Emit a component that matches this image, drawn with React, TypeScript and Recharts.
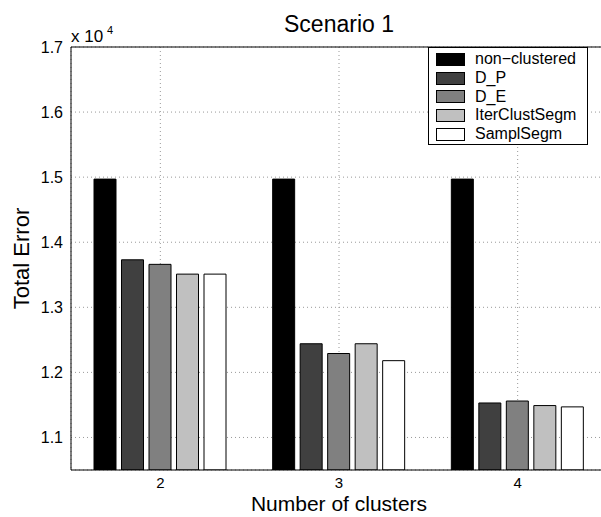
import React from "react";
import { Bar, BarChart, CartesianGrid, ReferenceLine, XAxis, YAxis } from "recharts";

const clusters = ["2", "3", "4"];
const nonClustered = [14970, 14970, 14970];
const dP = [13730, 12440, 11530];
const dE = [13660, 12290, 11560];
const iterClustSegm = [13510, 12440, 11490];
const samplSegm = [13510, 12180, 11470];
const yTicks = [11000, 12000, 13000, 14000, 15000, 16000, 17000];

const series = [
  { key: "nonClustered", name: "non\u2212clustered", values: nonClustered, color: "#000000" },
  { key: "dP", name: "D_P", values: dP, color: "#404040" },
  { key: "dE", name: "D_E", values: dE, color: "#808080" },
  { key: "iterClustSegm", name: "IterClustSegm", values: iterClustSegm, color: "#c0c0c0" },
  { key: "samplSegm", name: "SamplSegm", values: samplSegm, color: "#ffffff" },
];

const font = "'Liberation Sans', Arial, Helvetica, sans-serif";

const App: React.FC = () => {
  const data = clusters.map((c, i) => {
    const row: Record<string, string | number> = { cluster: c };
    series.forEach((s) => {
      row[s.key] = s.values[i];
    });
    return row;
  });

  return (
    <div
      style={{
        position: "absolute",
        left: 0,
        top: 0,
        width: 601,
        height: 517,
        overflow: "hidden",
        background: "#fff",
        fontFamily: font,
      }}
    >
      <BarChart
        width={620}
        height={517}
        data={data}
        margin={{ top: 47, right: 13, bottom: 0, left: 16 }}
        barSize={22}
        barGap={5.5}
      >
        <CartesianGrid stroke="#999" strokeDasharray="1 3" />
        <XAxis
          dataKey="cluster"
          height={47}
          axisLine={{ stroke: "#000" }}
          tickLine={false}
          tickMargin={1}
          tick={{ fill: "#000", fontSize: 15, fontFamily: font }}
          label={{
            value: "Number of clusters",
            position: "insideBottom",
            offset: 6,
            fill: "#000",
            fontSize: 21,
            fontFamily: font,
          }}
        />
        <YAxis
          type="number"
          domain={[10500, 17000]}
          ticks={yTicks}
          allowDataOverflow
          width={55}
          axisLine={{ stroke: "#000" }}
          tickLine={false}
          tick={{ fill: "#000", fontSize: 16, fontFamily: font }}
          tickFormatter={(v: number) => (v / 10000).toFixed(1)}
          label={{
            value: "Total Error",
            angle: -90,
            position: "insideLeft",
            offset: 5,
            fill: "#000",
            fontSize: 22,
            fontFamily: font,
            style: { textAnchor: "middle" },
          }}
        />
        <ReferenceLine y={17000} stroke="#000" />
        {series.map((s) => (
          <Bar
            key={s.key}
            dataKey={s.key}
            name={s.name}
            fill={s.color}
            stroke="#000"
            strokeWidth={1}
            isAnimationActive={false}
          />
        ))}
      </BarChart>

      {/* title and exponent */}
      <svg
        width={601}
        height={517}
        style={{ position: "absolute", left: 0, top: 0, pointerEvents: "none" }}
      >
        <text x={339} y={32} textAnchor="middle" fontSize={23} fontFamily={font} fill="#000">
          Scenario 1
        </text>
        <text x={71} y={42} fontSize={17} fontFamily={font} fill="#000">
          x 10
        </text>
        <text x={107} y={34} fontSize={11} fontFamily={font} fill="#000">
          4
        </text>
      </svg>

      {/* legend */}
      <div
        style={{
          position: "absolute",
          left: 428,
          top: 47,
          width: 160,
          paddingTop: 2,
          paddingBottom: 1,
          border: "1px solid #000",
          background: "#fff",
          boxSizing: "border-box",
        }}
      >
        {series.map((s) => (
          <div
            key={s.key}
            style={{ display: "flex", alignItems: "center", height: 18.7 }}
          >
            <span
              style={{
                display: "inline-block",
                marginLeft: 7,
                width: 29,
                height: 13,
                background: s.color,
                border: "1px solid #000",
                boxSizing: "border-box",
              }}
            />
            <span style={{ marginLeft: 10, fontSize: 16, color: "#000", lineHeight: "16px" }}>
              {s.name}
            </span>
          </div>
        ))}
      </div>
    </div>
  );
};

export default App;
